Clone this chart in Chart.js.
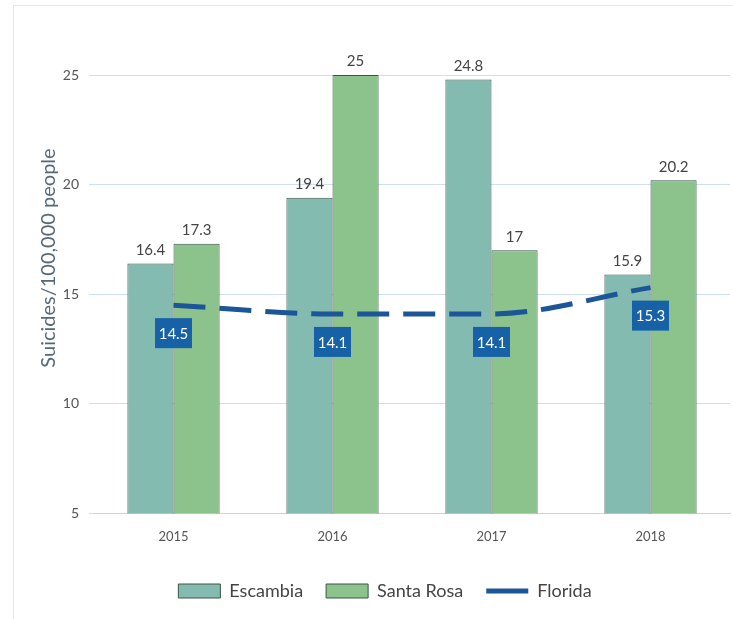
<!DOCTYPE html>
<html>
<head>
<meta charset="utf-8">
<script src="https://cdn.jsdelivr.net/npm/chart.js@4"></script>
<style>
  html, body { margin: 0; padding: 0; background: #fff; }
  #wrap { width: 733px; height: 619px; }
</style>
</head>
<body>
<div id="wrap"><canvas id="myChart" width="733" height="619"></canvas></div>
<script>
const years = ['2015', '2016', '2017', '2018'];
const escambia = [16.4, 19.4, 24.8, 15.9];
const santaRosa = [17.3, 25, 17, 20.2];
const florida = [14.5, 14.1, 14.1, 15.3];
const yTitle = 'Suicides/100,000 people';

const FONT = 'Lato, "Open Sans", sans-serif';

// frame, axis title, numbers above the bars and the boxed Florida values
const valueLabels = {
    id: 'valueLabels',
    beforeDraw(chart) {
        const c = chart.ctx;
        c.save();
        c.strokeStyle = '#dfe7ee';
        c.lineWidth = 1;
        c.strokeRect(13.5, 5.5, chart.width, chart.height);
        c.translate(49, 258);
        c.rotate(-Math.PI / 2);
        c.fillStyle = '#56697a';
        c.font = '20px ' + FONT;
        c.textAlign = 'center';
        c.textBaseline = 'middle';
        c.fillText(yTitle, 0, 0);
        c.restore();
    },
    afterDatasetsDraw(chart) {
        const c = chart.ctx;
        c.save();
        c.font = '15px ' + FONT;
        c.textAlign = 'center';
        c.textBaseline = 'bottom';
        chart.data.datasets.forEach((ds, i) => {
            const meta = chart.getDatasetMeta(i);
            meta.data.forEach((el, j) => {
                const v = String(ds.data[j]);
                if (ds.type === 'line') {
                    const w = 37, h = 30;
                    const top = el.y + 13;
                    c.fillStyle = '#1761a7';
                    c.fillRect(el.x - w / 2, top, w, h);
                    c.fillStyle = '#ffffff';
                    c.textBaseline = 'middle';
                    c.fillText(v, el.x, top + h / 2 + 1);
                    c.textBaseline = 'bottom';
                } else {
                    c.fillStyle = '#444';
                    c.fillText(v, el.x, el.y - 6);
                }
            });
        });
        c.restore();
    }
};

let ctx = document.getElementById('myChart').getContext('2d');

let myChart = new Chart(ctx, {
    data: {
        labels: years,
        datasets: [{
            type: 'bar',
            label: 'Escambia',
            data: escambia,
            backgroundColor: '#84bbb0',
            borderColor: '#3a5647',
            borderWidth: 1,
            categoryPercentage: 0.58,
            barPercentage: 1,
            order: 1
        }, {
            type: 'bar',
            label: 'Santa Rosa',
            data: santaRosa,
            backgroundColor: '#8cc38d',
            borderColor: '#3a5647',
            borderWidth: 1,
            categoryPercentage: 0.58,
            barPercentage: 1,
            order: 1
        }, {
            type: 'line',
            label: 'Florida',
            data: florida,
            borderColor: '#1c5598',
            backgroundColor: '#1c5598',
            borderWidth: 5,
            borderDash: [32, 14],
            pointRadius: 0,
            cubicInterpolationMode: 'monotone',
            fill: false,
            order: 0
        }]
    },
    options: {
        responsive: false,
        animation: false,
        layout: {
            padding: { top: 75, right: 3, left: 40, bottom: 9 }
        },
        plugins: {
            tooltip: { enabled: false },
            legend: {
                position: 'bottom',
                sort: (a, b) => a.datasetIndex - b.datasetIndex,
                labels: {
                    usePointStyle: true,
                    pointStyleWidth: 42,
                    boxHeight: 14,
                    padding: 23,
                    color: '#444',
                    font: { family: FONT, size: 18 },
                    generateLabels(chart) {
                        return chart.data.datasets.map((ds, i) => ({
                            text: ds.label,
                            datasetIndex: i,
                            fillStyle: ds.backgroundColor,
                            strokeStyle: ds.type === 'line' ? ds.borderColor : '#3a5647',
                            lineWidth: ds.type === 'line' ? 5 : 1,
                            pointStyle: ds.type === 'line' ? 'line' : 'rect',
                            fontColor: '#444',
                            hidden: false
                        }));
                    }
                }
            }
        },
        scales: {
            x: {
                grid: { display: false },
                border: { color: '#c9d6e0' },
                ticks: { color: '#555', font: { family: FONT, size: 13 }, padding: 8 },
                afterFit(scale) { scale.height += 6; }
            },
            y: {
                min: 5,
                max: 25,
                ticks: { stepSize: 5, color: '#555', font: { family: FONT, size: 14 }, padding: 10 },
                grid: { color: '#cfe0ea', tickLength: 5, drawTicks: true },
                border: { display: false },
                afterFit(scale) { scale.width = 54; }
            }
        }
    },
    plugins: [valueLabels]
});
</script>
</body>
</html>
